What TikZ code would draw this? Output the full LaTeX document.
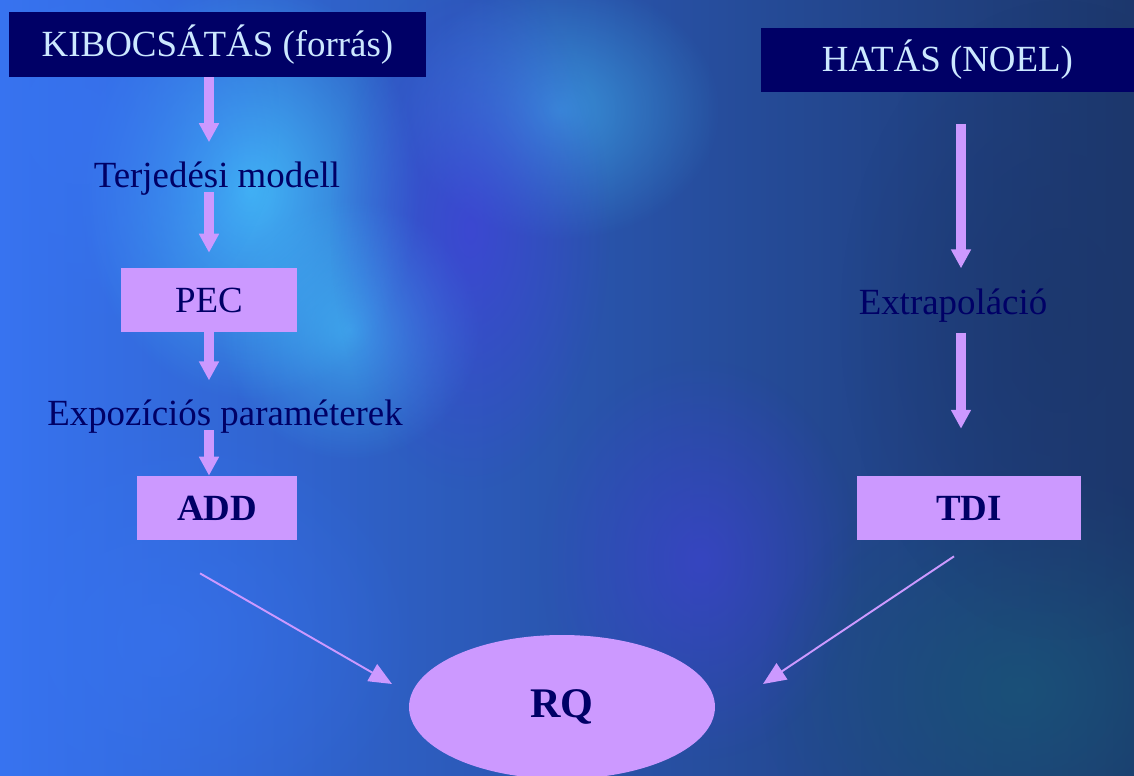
\documentclass[tikz,border=0pt]{standalone}
\usepackage{fontspec}
\setmainfont{Liberation Serif}
\usetikzlibrary{arrows.meta,shapes.geometric,fadings}

\definecolor{navybox}{RGB}{0,0,102}
\definecolor{lilac}{RGB}{204,153,255}
\definecolor{palesky}{RGB}{204,232,255}
\definecolor{bgleft}{RGB}{55,115,240}
\definecolor{bgmid}{RGB}{58,70,215}
\definecolor{bgright}{RGB}{28,55,108}
\definecolor{bgcyan}{RGB}{70,200,255}
\definecolor{bgteal}{RGB}{25,85,120}
\definecolor{bgviolet}{RGB}{70,60,225}

\tikzfading[name=softblob,inner color=transparent!0,outer color=transparent!100]

\tikzset{
  headbox/.style={fill=navybox,text=palesky,minimum height=1.3cm,font=\fontsize{21}{25}\selectfont},
  stepbox/.style={fill=lilac,text=navybox,minimum height=1.28cm,font=\fontsize{21}{25}\selectfont},
  boldbox/.style={stepbox,font=\fontsize{21}{25}\selectfont\bfseries},
  steplabel/.style={text=navybox,inner sep=0pt,font=\fontsize{21}{25}\selectfont},
  fatarrow/.style={draw=lilac,line width=5.7pt,-{Triangle[length=10.8pt,width=10.8pt]}},
  thinarrow/.style={draw=lilac,line width=1.1pt,-{Triangle[length=13pt,width=11pt]}},
  blob/.style={path fading=softblob}
}

\begin{document}
\begin{tikzpicture}[x=0.02cm,y=-0.02cm]
	% background
	\useasboundingbox (0,0) rectangle (1134,776);
	\begin{scope}
		\clip (0,0) rectangle (1134,776);
		\shade[left color=bgleft,middle color=bgmid,right color=bgright] (0,0) rectangle (1134,776);
		\fill[bgcyan,blob,opacity=.8] (250,190) ellipse (170 and 210);
		\fill[bgcyan,blob,opacity=.6] (350,330) ellipse (130 and 130);
		\fill[bgcyan,blob,opacity=.5] (560,110) ellipse (160 and 130);
		\fill[bgleft,blob,opacity=.7] (80,120) ellipse (200 and 220);
		\fill[bgleft,blob,opacity=.6] (160,640) ellipse (260 and 220);
		\fill[bgviolet,blob,opacity=.6] (470,230) ellipse (140 and 260);
		\fill[bgviolet,blob,opacity=.5] (700,560) ellipse (160 and 200);
		\fill[bgteal,blob,opacity=.8] (1020,690) ellipse (260 and 220);
		\fill[bgright,blob,opacity=.7] (1060,320) ellipse (220 and 320);
	\end{scope}
	\coordinate (rcol) at (961,0);
	% boxes and labels
	\node[headbox,minimum width=8.34cm] (kib) at (217.5,44.5) {KIBOCSÁTÁS (forrás)};
	\node[headbox,minimum width=7.46cm,minimum height=1.28cm] (hatas) at (947.5,60) {HATÁS (NOEL)};
	\node[steplabel] (terj) at (217,179) {Terjedési modell};
	\node[stepbox,minimum width=3.52cm] (pec) at (209,300) {PEC};
	\node[steplabel] (expo) at (225,417) {Expozíciós paraméterek};
	\node[boldbox,minimum width=3.2cm] (add) at (217,508) {ADD};
	\node[steplabel] (extra) at (953,306) {Extrapoláció};
	\node[boldbox,minimum width=4.48cm] (tdi) at (969,508) {TDI};
	\node[ellipse,fill=lilac,text=navybox,minimum width=6.12cm,minimum height=2.88cm,font=\fontsize{24}{28}\selectfont\bfseries] (rq) at (562,707) {RQ};
	% arrows
	\draw[fatarrow,shorten >=11.2pt] (kib.south -| pec) -- (terj.north -| pec);
	\draw[fatarrow,shorten <=-2.3pt,shorten >=8.5pt] (terj.south -| pec) -- (pec.north);
	\draw[fatarrow,shorten >=11.1pt] (pec.south) -- (expo.north -| pec);
	\draw[fatarrow,shorten <=-2.3pt] (expo.south -| pec) -- (add.north -| pec);
	\draw[fatarrow,shorten <=18pt,shorten >=11.7pt] (hatas.south -| rcol) -- (extra.north -| rcol);
	\draw[fatarrow,shorten <=5.4pt,shorten >=26.7pt] (extra.south -| rcol) -- (tdi.north -| rcol);
	\draw[thinarrow] ([shift={(-17,33)}]add.south) -- ([shift={(-170,-23)}]rq.center);
	\draw[thinarrow] ([shift={(-15,16)}]tdi.south) -- ([shift={(201,-23)}]rq.center);
\end{tikzpicture}
\end{document}
